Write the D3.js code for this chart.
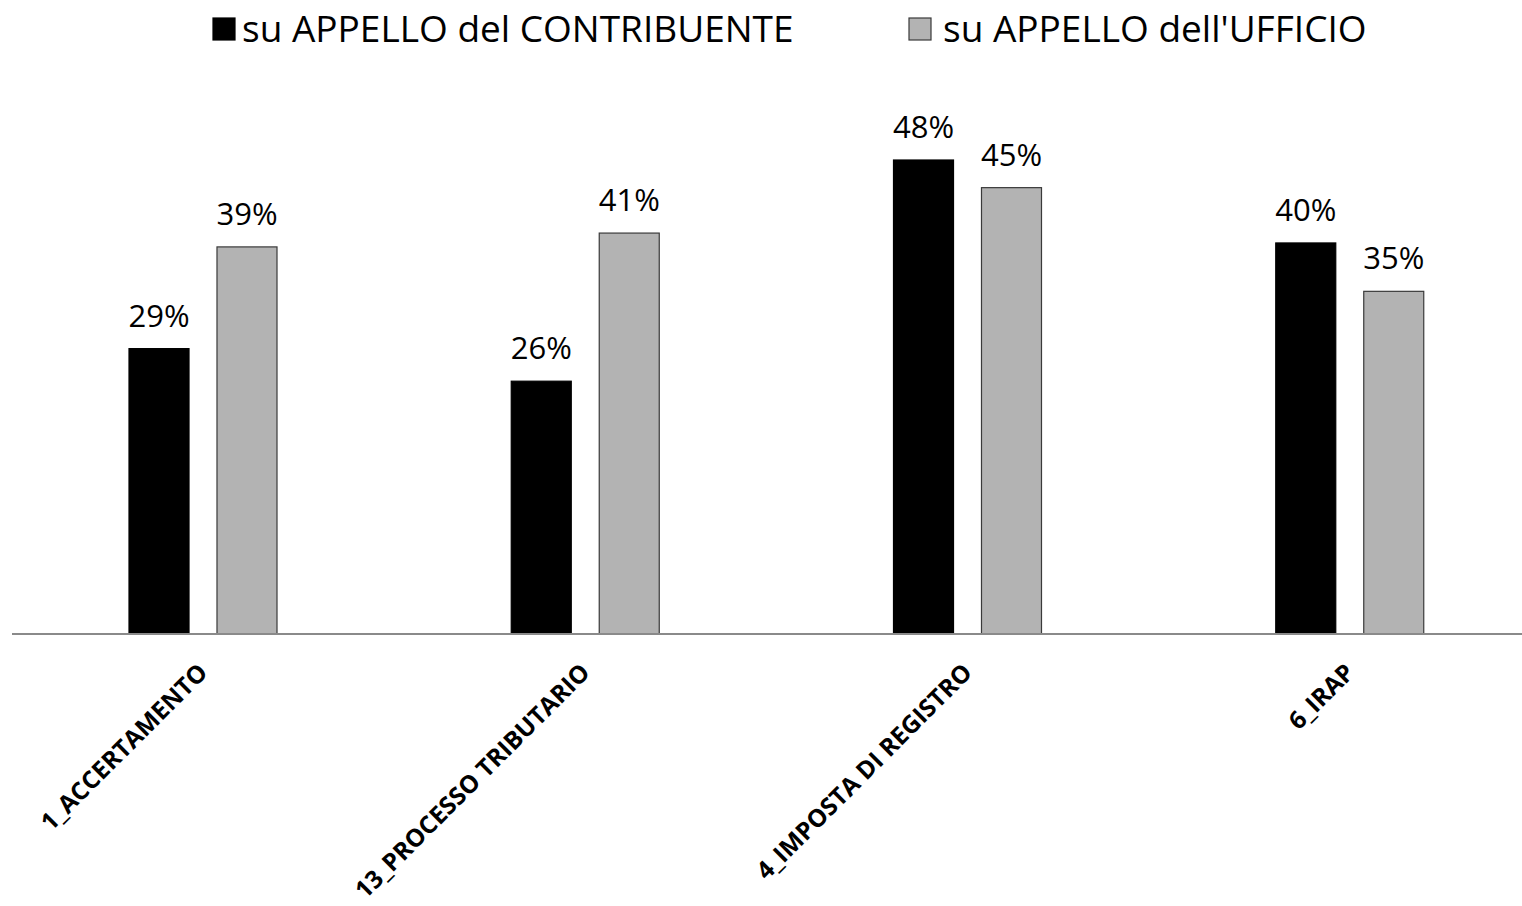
<!DOCTYPE html>
<html>
<head>
<meta charset="utf-8">
<title>appelli</title>
<script src="https://cdn.jsdelivr.net/npm/d3@7"></script>
<style>
body { margin: 0; background: #fff; }
text { font-family: "Open Sans", "Noto Sans", sans-serif; }
</style>
</head>
<body>
<script>
// data
var categories = ["1_ACCERTAMENTO", "13_PROCESSO TRIBUTARIO", "4_IMPOSTA DI REGISTRO", "6_IRAP"];
var seriesNames = ["su APPELLO del CONTRIBUENTE", "su APPELLO dell'UFFICIO"];
var contribuente = [28.9, 25.6, 48.0, 39.6];
var ufficio = [39.2, 40.6, 45.2, 34.7];
var colors = ["#000000", "#b3b3b3"];

var w = 1522, h = 906;
var base = 634;

var svg = d3.select("body").append("svg").attr("width", w).attr("height", h);

var rows = categories.map(function(c, i) {
	return {cat: c, vals: [contribuente[i], ufficio[i]]};
});

var x0 = d3.scaleBand().domain(categories).range([12, 1541]);
var x1 = d3.scaleBand().domain([0, 1]).range([117, 265]).paddingInner(0.318).paddingOuter(0);
var y = d3.scaleLinear().domain([0, 48]).range([base, 160]);

var groups = svg.selectAll("g.grp").data(rows).enter().append("g")
	.attr("transform", function(d){ return "translate(" + x0(d.cat) + ",0)"; });

groups.selectAll("rect").data(function(d){ return d.vals; }).enter().append("rect")
	.attr("x", function(d, i){ return x1(i); })
	.attr("width", x1.bandwidth())
	.attr("y", function(d){ return y(d); })
	.attr("height", function(d){ return base - y(d); })
	.attr("fill", function(d, i){ return colors[i]; })
	.attr("stroke", function(d, i){ return i ? "#3a3a3a" : "#000"; })
	.attr("stroke-width", 1.2);

groups.selectAll("text.lbl").data(function(d){ return d.vals; }).enter().append("text")
	.attr("class", "lbl")
	.attr("x", function(d, i){ return x1(i) + x1.bandwidth()/2; })
	.attr("y", function(d){ return y(d) - 22; })
	.attr("text-anchor", "middle")
	.attr("font-size", 31)
	.attr("fill", "#000")
	.text(function(d){ return Math.round(d) + "%"; });

// x axis
var xAxis = d3.axisBottom(x0).tickSize(0).tickPadding(0);
var ax = svg.append("g").attr("transform", "translate(0," + base + ")").call(xAxis);
ax.select(".domain").remove();
ax.selectAll("text")
	.attr("font-family", "\"Open Sans\", sans-serif")
	.attr("font-size", 24.5)
	.attr("font-weight", "bold")
	.attr("fill", "#000")
	.attr("text-anchor", "end")
	.attr("dy", null)
	.attr("y", 0)
	.attr("transform", "translate(6,40) rotate(-45)");
svg.append("line").attr("x1", 12).attr("x2", w).attr("y1", base).attr("y2", base)
	.attr("stroke", "#8a8a8a").attr("stroke-width", 2);

// legend
var legX = [213, 909];
var leg = svg.selectAll("g.leg").data(seriesNames).enter().append("g")
	.attr("transform", function(d, i){ return "translate(" + legX[i] + ",18)"; });
leg.append("rect").attr("width", 22).attr("height", 22)
	.attr("fill", function(d, i){ return colors[i]; })
	.attr("stroke", function(d, i){ return i ? "#3a3a3a" : "#000"; }).attr("stroke-width", 1.2);
leg.append("text").attr("x", function(d, i){ return i ? 34 : 29; }).attr("y", 24)
	.attr("font-size", 37).attr("fill", "#000")
	.text(function(d){ return d; });
</script>
</body>
</html>
